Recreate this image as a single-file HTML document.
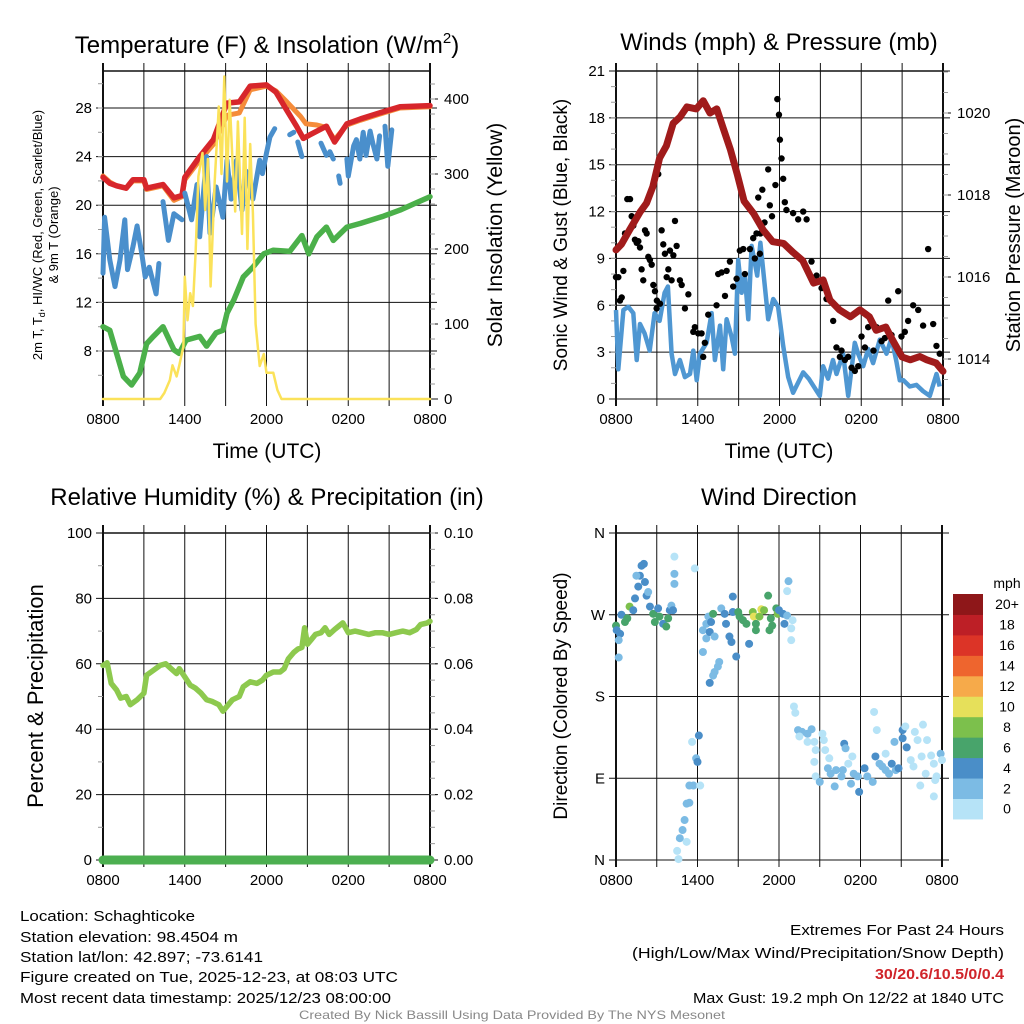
<!DOCTYPE html>
<html><head><meta charset="utf-8"><style>
html,body{margin:0;padding:0;background:#fff;}
svg{display:block;font-family:"Liberation Sans",Arial,sans-serif;}
</style></head><body>
<svg id="root" width="1024" height="1024" viewBox="0 0 1024 1024" xmlns="http://www.w3.org/2000/svg">
<rect x="0" y="0" width="1024" height="1024" fill="#fff"/>
<g id="p1"></g>
<g id="p2"></g>
<g id="p3"></g>
<g id="p4"></g>
<g id="colorbar"></g>

<text x="267" y="53" font-size="24" text-anchor="middle">Temperature (F) &amp; Insolation (W/m<tspan font-size="15" dy="-10">2</tspan><tspan dy="10">)</tspan></text>
<text x="779" y="50" font-size="24" text-anchor="middle">Winds (mph) &amp; Pressure (mb)</text>
<text x="267" y="505" font-size="24" text-anchor="middle">Relative Humidity (%) &amp; Precipitation (in)</text>
<text x="779" y="505" font-size="24" text-anchor="middle">Wind Direction</text>

<text x="267" y="458" font-size="21" text-anchor="middle">Time (UTC)</text>
<text x="779" y="458" font-size="21" text-anchor="middle">Time (UTC)</text>

<text transform="translate(42,235) rotate(-90)" font-size="13" text-anchor="middle">2m T, T<tspan font-size="9" dy="3">d</tspan><tspan dy="-3">, HI/WC (Red, Green, Scarlet/Blue)</tspan></text>
<text transform="translate(58,235) rotate(-90)" font-size="13" text-anchor="middle">&amp; 9m T (Orange)</text>
<text transform="translate(502,235) rotate(-90)" font-size="21" text-anchor="middle">Solar Insolation (Yellow)</text>
<text transform="translate(567,235) rotate(-90)" font-size="19" text-anchor="middle">Sonic Wind &amp; Gust (Blue, Black)</text>
<text transform="translate(1020,235) rotate(-90)" font-size="20" text-anchor="middle">Station Pressure (Maroon)</text>
<text transform="translate(43,696) rotate(-90)" font-size="22" text-anchor="middle">Percent &amp; Precipitation</text>
<text transform="translate(567,696) rotate(-90)" font-size="19" text-anchor="middle">Direction (Colored By Speed)</text>

<g font-size="15">
<text x="20" y="921" textLength="175" lengthAdjust="spacingAndGlyphs">Location: Schaghticoke</text>
<text x="20" y="942" textLength="218" lengthAdjust="spacingAndGlyphs">Station elevation: 98.4504 m</text>
<text x="20" y="962" textLength="243" lengthAdjust="spacingAndGlyphs">Station lat/lon: 42.897; -73.6141</text>
<text x="20" y="982" textLength="378" lengthAdjust="spacingAndGlyphs">Figure created on Tue, 2025-12-23, at 08:03 UTC</text>
<text x="20" y="1003" textLength="371" lengthAdjust="spacingAndGlyphs">Most recent data timestamp: 2025/12/23 08:00:00</text>
</g>
<g font-size="15" text-anchor="end">
<text x="1004" y="935" textLength="214" lengthAdjust="spacingAndGlyphs">Extremes For Past 24 Hours</text>
<text x="1004" y="958" textLength="372" lengthAdjust="spacingAndGlyphs">(High/Low/Max Wind/Precipitation/Snow Depth)</text>
<text x="1004" y="979" textLength="129" lengthAdjust="spacingAndGlyphs" fill="#d0242a" font-weight="bold">30/20.6/10.5/0/0.4</text>
<text x="1004" y="1003" textLength="311" lengthAdjust="spacingAndGlyphs">Max Gust: 19.2 mph On 12/22 at 1840 UTC</text>
</g>
<text x="512" y="1019" font-size="12" fill="#888" text-anchor="middle" textLength="426" lengthAdjust="spacingAndGlyphs">Created By Nick Bassill Using Data Provided By The NYS Mesonet</text>
</svg>
<script>
// ===== data =====
const timeTickLabels = ["0800","1400","2000","0200","0800"];
// Panel 1 (hours since 0800, value)
const redT = [0,0.5,1,1.7,2.2,3,3.2,4.4,5.2,5.8,6,7.1,8.1,9.1,10,10.8,12,12.7,13.5,14.2,14.7,15.2,16.4,17,17.9,18.9,20.6,21.8,24];
const redV = [22.3,21.8,21.6,21.4,22.1,22.1,21.4,21.7,20.6,20.8,22.3,24,25.4,28.4,28.5,29.8,29.9,29.3,27.8,26.5,25.5,25.8,26.5,25.2,26.7,27.1,27.7,28.1,28.2];
const orangeT = [0,0.5,1,1.7,2.2,3,3.2,4.4,5.2,5.8,6,7.1,8.1,9.1,10,10.8,12,12.7,13.5,14.5,14.9,15.7,16.4,17,17.9,18.9,20.6,21.8,24];
const orangeV = [22.4,21.9,21.6,21.4,22.0,22.0,21.3,21.6,20.4,20.7,22.1,23.7,25.0,27.4,27.6,29.5,29.8,29.4,28.5,27.3,26.7,26.6,26.4,25.4,26.6,27.0,27.6,28.0,28.1];
const greenT = [0,0.5,1,1.5,2.1,2.7,3.2,3.7,4.4,5.2,5.6,6.1,7.1,7.6,8.3,8.8,9.1,9.6,10.3,11,11.8,12.5,13.7,14.6,15.1,15.7,16.4,16.9,17.9,18.9,20.6,21.8,23,24];
const greenV = [10,9.7,7.8,5.9,5.2,6.2,8.6,9.2,10,8.1,7.8,8.9,9.2,8.4,9.5,9.7,11.1,12.2,14.1,14.9,16,16.3,16.2,17.5,16,17.4,18.2,17.1,18.2,18.5,19.1,19.6,20.2,20.7];
const blueT = [0,0.12,0.5,0.88,1.25,1.6,1.8,2.2,2.5,2.85,3.1,3.4,3.9,4.1,null,4.4,4.8,5.2,5.8,null,6.0,6.5,6.9,7.1,7.6,7.85,8.3,8.8,9.1,9.4,9.8,10.2,10.5,11,11.5,11.7,12.0,12.25,12.6,null,13.7,14.0,null,14.3,14.6,null,16.0,16.4,null,16.65,16.9,null,17.3,17.4,null,17.9,18.0,18.4,18.6,18.85,19.1,19.3,19.6,19.8,20.1,20.3,null,20.7,20.9,21.2];
const blueV = [14.4,19,15.5,13.3,15.5,18.8,14.7,16.6,18.3,16,14.1,14.9,12.7,15.2,null,20.3,17.1,19.3,18.8,null,21,18.8,21.7,17.4,24,17.7,21.5,19,23.7,20.5,23.7,19.6,22.8,20.5,23.7,22.6,24.3,25.6,26.3,null,25.8,26,null,25.2,24,null,25.1,24.1,null,24.4,23.8,null,22.4,21.8,null,23.8,22.4,24.9,25.4,23.8,26,24.1,26.1,25.1,23.8,25.7,null,26.5,23.2,26.2];
const solarT = [0,4.2,4.5,4.9,5.1,5.4,5.6,5.9,6.0,6.2,6.4,6.6,6.8,7.0,7.3,7.5,7.7,7.9,8.2,8.5,8.7,8.9,9.1,9.3,9.5,9.7,9.9,10.2,10.4,10.6,10.8,11.0,11.2,11.5,11.8,12.0,12.3,12.5,12.8,13.1,13.5,24];
const solarV = [0,0,8,25,45,30,45,70,163,105,141,124,195,297,328,252,320,150,290,390,300,430,290,399,320,250,370,220,375,200,340,248,100,44,60,35,35,35,12,0,0,0];
// Panel 2
const windT = [0,0.17,0.54,0.9,1.27,1.52,1.76,2.1,2.47,2.83,3.2,3.57,3.81,4.08,4.33,4.69,5.06,5.43,5.67,5.92,6.16,6.65,7.02,7.26,7.63,7.87,8.12,8.48,8.73,8.97,9.22,9.46,9.71,9.95,10.36,10.6,11.17,11.54,11.9,12.27,12.64,13.0,13.74,14.15,14.96,15.2,15.57,15.93,16.18,16.67,17.04,17.53,17.77,18.14,18.51,18.87,19.36,19.85,20.22,20.58,20.83,21.1,21.56,22.05,22.54,23.03,23.52,23.76];
const windV = [5.7,1.9,5.7,5.9,5.5,2.5,4.8,4.2,3.1,5.5,5.0,6.8,7.2,2.9,1.6,2.5,1.4,1.6,3.1,1.2,2.9,3.6,5.5,2.5,4.7,1.9,5.1,4.0,2.9,8.9,6.8,7.9,5.1,9.8,7.9,10.0,5.1,6.4,5.9,3.4,1.4,0.4,1.7,1.3,0.2,2.1,1.3,2.5,1.6,2.9,0.2,3.6,2.9,2.1,3.2,2.3,3.8,2.9,3.9,2.4,1.2,1.2,0.8,0.9,0.5,0.2,1.6,0.8];
const gustT = [0,0.17,0.29,0.42,0.54,0.66,0.83,1.03,1.15,1.27,1.39,1.52,1.64,1.76,1.88,2.0,2.13,2.25,2.37,2.49,2.62,2.74,2.86,2.98,3.0,3.1,3.23,3.35,3.47,3.59,3.72,3.84,3.96,4.08,4.21,4.33,4.45,4.69,4.82,5.06,5.31,5.67,5.79,6.03,6.28,6.4,6.52,6.77,7.38,7.5,7.75,8.0,8.12,8.36,8.6,8.85,9.09,9.34,9.46,9.83,10.07,10.19,10.31,10.44,10.56,10.6,10.74,10.9,11.17,11.29,11.45,11.7,11.84,11.96,12.03,12.15,12.27,12.39,12.51,13.0,13.37,13.74,13.99,14.35,14.72,15.09,15.45,15.94,16.18,16.43,16.55,16.8,17.04,17.29,17.53,17.78,18.02,18.27,18.51,18.9,19.12,19.49,19.73,19.98,20.22,20.71,20.95,21.2,21.44,21.81,22.18,22.54,22.91,23.28,23.52,23.76];
const gustV = [7.8,7.8,6.3,6.5,8.2,10.6,12.8,12.8,11.7,11.1,10.2,10.0,10.1,9.7,8.3,7.6,10.8,10.6,9.1,8.9,8.6,7.3,6.9,5.8,6.3,14.4,6.1,10.8,9.9,9.3,7.8,8.3,9.5,7.6,9.2,11.4,9.8,7.6,7.3,5.8,6.7,4.3,4.6,4.2,4.2,2.7,3.6,5.4,6.0,8.0,8.1,6.6,8.2,8.8,7.2,7.7,9.5,9.6,8.0,9.6,10.3,9.0,10.6,12.9,9.3,10.6,13.4,11.3,14.7,12.4,11.7,13.7,19.2,18.2,16.6,15.4,14.1,12.6,12.1,11.9,11.5,12.0,11.5,8.8,7.9,7.1,6.4,5.0,3.3,2.7,3.1,2.5,2.7,2.0,1.8,2.1,4.0,3.3,4.6,3.1,4.6,3.7,3.9,6.3,4.1,6.9,4.0,4.3,5.0,6.0,5.7,4.7,9.6,4.8,3.4,2.9,3.4,2.3,1.8,2.4,1.1];
const pressT = [0,0.4,1.0,1.8,2.24,2.7,3.2,3.7,4.2,4.7,5.2,5.9,6.4,6.9,7.4,7.9,8.4,8.9,9.4,10.1,10.8,11.5,12.3,13.0,13.7,14.5,15.2,15.7,16.4,17.2,17.9,18.6,19.1,19.8,20.3,21.0,21.6,22.3,22.8,23.5,24];
const pressV = [1016.66,1016.8,1017.15,1017.6,1017.8,1018.2,1018.9,1019.2,1019.75,1019.9,1020.15,1020.1,1020.3,1020.0,1020.1,1019.6,1019.1,1018.5,1017.85,1017.55,1017.15,1016.86,1016.82,1016.6,1016.4,1015.85,1015.93,1015.44,1015.2,1015.03,1015.2,1015.03,1014.7,1014.78,1014.46,1014.05,1013.98,1014.06,1013.98,1013.9,1013.7];
// Panel 3
const rhT = [0,0.3,0.6,1,1.3,1.7,2,2.5,3,3.2,3.7,4.2,4.6,5,5.4,5.6,6,6.4,6.8,7.2,7.6,8,8.5,8.8,9.2,9.5,10,10.3,10.8,11.3,11.7,12,12.5,13,13.3,13.6,14,14.3,14.6,14.8,15,15.3,15.6,16,16.3,16.6,17,17.3,17.6,18,18.5,19,19.5,20,20.5,21,21.5,22,22.5,23,23.3,23.8,24];
const rhV = [59.5,60.3,54,52,49.5,50,47.5,49,51,56.5,58,59.5,60,58.5,57,58.5,56,53.5,52.5,51,49,48.5,47.5,45.5,47.5,49,50,53,54.5,54,55,56.5,57.5,57.5,58.5,61.5,63.5,64.5,65,71,66,67.5,69,69.5,71,69,70.5,71.5,72.5,69.5,70,69.5,69,69.5,69.5,69,69.5,70,69.5,70.5,72,72.5,73];
const precipT = [0,24];
const precipV = [0,0];
// Panel 4 wind direction
const dirT = [0,0.05,0.3,0.2,0.2,0.4,0.66,0.83,1.0,1.27,1.4,1.64,1.76,1.88,2.05,1.5,2.13,2.25,2.37,2.5,2.74,2.86,3.1,3.2,3.47,3.7,3.84,3.96,4.08,4.2,4.3,4.3,4.3,5.8,5.6,6.1,5.9,6.0,5.7,6.2,5.4,5.2,5.4,5.05,4.9,4.7,5.2,4.5,4.6,6.4,6.65,6.8,7.0,7.15,6.4,6.65,6.9,7.26,7.6,7.5,7.26,7.15,6.9,7.75,8.0,8.1,8.35,8.5,8.6,8.85,8.6,9.0,9.1,9.35,9.6,9.8,10.07,10.15,10.3,10.3,10.56,10.7,10.9,11.2,11.3,11.4,11.5,11.8,11.9,12.0,12.3,12.4,12.6,13.0,12.9,12.6,12.7,12.9,13.1,13.2,13.4,13.7,14.1,14.4,13.5,14.1,14.6,14.7,14.6,14.7,15.0,15.2,15.3,15.4,15.7,15.6,15.8,16.1,16.2,16.6,16.7,16.8,16.9,17.1,17.3,17.4,17.5,17.8,17.9,18.3,18.5,18.9,19.0,19.2,19.1,19.4,19.6,19.85,20.1,19.85,20.3,20.6,20.8,21.1,21.1,20.5,21.3,21.4,21.7,21.9,22.0,22.2,22.5,22.6,22.9,22.4,22.8,23.2,23.4,23.4,23.6,23.5,23.9,24];
const dirV = [258,253,249,242,223,270,262,266,279,275,288,301,313,324,326,313,306,291,295,279,271,262,277,268,260,257,266,275,280,275,334,315,304,321,130,137,112,108,82,82,82,62,63,44,33,24,20,10,1,253,260,268,262,271,229,244,251,246,218,213,207,203,195,277,271,260,246,240,290,224,273,273,268,264,260,238,273,268,260,253,268,276,275,291,253,266,258,277,271,275,271,260,269,264,255,296,307,242,169,162,143,141,139,144,136,130,130,121,108,92,86,139,132,121,112,101,95,81,99,92,99,128,123,106,84,114,95,92,75,101,92,86,163,143,114,106,103,99,95,117,106,99,101,143,134,130,147,124,110,103,141,132,114,149,132,82,95,115,106,70,92,88,117,110];
const dirSpd = [7,5,5,3,3,5,7,7,9,5,5,5,5,5,5,3,5,5,3,5,7,7,5,7,5,7,7,5,3,5,1,3,3,1,1,5,3,5,3,1,3,3,3,3,3,3,1,1,1,3,3,3,5,7,3,3,5,3,3,3,3,3,5,3,5,5,5,5,5,5,5,7,7,7,7,5,9,11,7,7,9,11,9,7,7,7,7,7,9,5,5,5,3,1,1,1,3,1,1,1,3,3,3,3,1,1,1,1,1,1,3,1,1,1,1,3,3,3,3,3,3,5,3,1,3,1,3,3,5,5,3,3,1,1,5,3,3,3,3,1,5,3,5,5,5,3,1,5,1,1,1,1,1,1,1,1,1,1,1,1,1,1,3,1,1];
const cbLabels = ["0","2","4","6","8","10","12","14","16","18","20+"];
const cbColors = ["#b6e3f7","#7cbbe4","#4a8ec8","#48a46b","#7cc04c","#e6e05a","#f6aa4a","#ee652e","#dc3427","#bd1f26","#8e1719"];

// ===== helpers =====
const NS="http://www.w3.org/2000/svg";
function mk(tag,attrs,parent){const e=document.createElementNS(NS,tag);for(const k in attrs)e.setAttribute(k,attrs[k]);parent.appendChild(e);return e;}
function lin(d0,d1,r0,r1){return v=>r0+(v-d0)*(r1-r0)/(d1-d0);}
function pathFrom(ts,vs,sx,sy){let d="",pen=false;for(let i=0;i<ts.length;i++){if(ts[i]===null||vs[i]===null){pen=false;continue;}d+=(pen?"L":"M")+sx(ts[i]).toFixed(1)+","+sy(vs[i]).toFixed(1);pen=true;}return d;}

function frame(g,X0,X1,Y0,Y1,hvals,sy,labels,lx,rvals,syr,rlabels,minorL,minorR){
  for(let i=0;i<=8;i++){const x=X0+(X1-X0)*i/8;
    const gl=mk("line",{x1:x,x2:x,y1:Y0-8,y2:Y1+7,stroke:"#111","stroke-width":i==0||i==8?2:1},g);
    
    }
  hvals.forEach((v,i)=>{const y=sy(v);
    const hl=mk("line",{x1:X0-7,x2:X1+7,y1:y,y2:y,stroke:"#111","stroke-width":1},g);
    
    
    if(labels){const t=mk("text",{x:X0-11,y:y+5,"font-size":15,"text-anchor":"end"},g);t.textContent=labels[i];
      
      }
  });
  mk("line",{x1:X0,x2:X1,y1:Y0,y2:Y0,stroke:"#111","stroke-width":1.5},g);
  (minorL||[]).forEach(v=>{const y=sy(v);mk("line",{x1:X0-5,x2:X0,y1:y,y2:y,stroke:"#999","stroke-width":1},g);});
  if(rvals){rvals.forEach((v,i)=>{const y=syr(v);mk("line",{x1:X1,x2:X1+8,y1:y,y2:y,stroke:"#111","stroke-width":1},g);
    const t=mk("text",{x:X1+14,y:y+5,"font-size":15},g);t.textContent=rlabels[i];
    
    });
    (minorR||[]).forEach(v=>{const y=syr(v);mk("line",{x1:X1,x2:X1+5,y1:y,y2:y,stroke:"#999","stroke-width":1},g);});}
  timeTickLabels.forEach((l,i)=>{const t=mk("text",{x:X0+(X1-X0)*i/4,y:Y1+25,"font-size":15,"text-anchor":"middle"},g);t.textContent=l;
    
    });
}
function range(a,b,s){const r=[];for(let v=a;v<=b+1e-9;v+=s)r.push(+v.toFixed(4));return r;}

// ===== Panel 1 =====
(function(){const g=document.getElementById("p1");
 const X0=103,X1=430,Y0=71,Y1=399;
 const sx=lin(0,24,X0,X1), sy=lin(8,28,351,108), ss=lin(0,400,399,99);
 frame(g,X0,X1,Y0,Y1,[8,12,16,20,24,28],sy,["8","12","16","20","24","28"],0,[0,100,200,300,400],ss,["0","100","200","300","400"],range(6,30,2),range(20,420,20));
 const series=[[orangeT,orangeV,"#f58c3a",5,sy,"orange-9m-temp-line"],[redT,redV,"#d7262b",5.5,sy,"red-2m-temp-line"],[blueT,blueV,"#4a8fcc",5,sy,"blue-heat-index-line"],[greenT,greenV,"#4bb04a",5.5,sy,"green-dewpoint-line"],[solarT,solarV,"#fbe25a",2.5,ss,"yellow-solar-line"]];
 series.forEach(s=>{const p=mk("path",{d:pathFrom(s[0],s[1],sx,s[4]),fill:"none",stroke:s[2],"stroke-width":s[3],"stroke-linejoin":"round","stroke-linecap":"round"},g);
   
   });
})();

// ===== Panel 2 =====
(function(){const g=document.getElementById("p2");
 const X0=616,X1=943,Y0=71,Y1=399;
 const sx=lin(0,24,X0,X1), sy=lin(0,21,399,71), sp=lin(1014,1020,359,113);
 frame(g,X0,X1,Y0,Y1,[0,3,6,9,12,15,18,21],sy,["0","3","6","9","12","15","18","21"],0,[1014,1016,1018,1020],sp,["1014","1016","1018","1020"],range(1,20,1),range(1013.5,1021,0.5));
 const w=mk("path",{d:pathFrom(windT,windV,sx,sy),fill:"none",stroke:"#4f97d2","stroke-width":4.5,"stroke-linejoin":"round"},g);
 
 
 gustT.forEach((t,i)=>{const c=mk("circle",{cx:sx(t),cy:sy(gustV[i]),r:3.2,fill:"#000"},g);
   
   });
 const p=mk("path",{d:pathFrom(pressT,pressV,sx,sp),fill:"none",stroke:"#a01b1b","stroke-width":7,"stroke-linejoin":"round","stroke-linecap":"round"},g);
 
 
})();

// ===== Panel 3 =====
(function(){const g=document.getElementById("p3");
 const X0=103,X1=430,Y0=533,Y1=860;
 const sx=lin(0,24,X0,X1), sy=lin(0,100,860,533), sr=lin(0,0.1,860,533);
 frame(g,X0,X1,Y0,Y1,[0,20,40,60,80,100],sy,["0","20","40","60","80","100"],0,[0,0.02,0.04,0.06,0.08,0.1],sr,["0.00","0.02","0.04","0.06","0.08","0.10"],range(10,90,20),range(0.005,0.1,0.005));
 const r=mk("path",{d:pathFrom(rhT,rhV,sx,sy),fill:"none",stroke:"#8dc94e","stroke-width":5.5,"stroke-linejoin":"round","stroke-linecap":"round"},g);
 
 
 const pr=mk("path",{d:pathFrom(precipT,precipV,sx,sr),fill:"none",stroke:"#4caf50","stroke-width":9,"stroke-linecap":"round"},g);
 
 
})();

// ===== Panel 4 =====
(function(){const g=document.getElementById("p4");
 const X0=616,X1=942,Y0=533,Y1=860;
 const sx=lin(0,24,X0,X1), sy=lin(0,360,860,533);
 frame(g,X0,X1,Y0,Y1,[0,90,180,270,360],sy,["N","E","S","W","N"],0,null);
 dirT.forEach((t,i)=>{const idx=Math.min(10,Math.floor(dirSpd[i]/2));
   const c=mk("circle",{cx:sx(t),cy:sy(dirV[i]),r:4,fill:cbColors[idx]},g);
   
   });
 const cb=document.getElementById("colorbar");
 const h=20.45, top=594;
 const ut=mk("text",{x:1007,y:588,"font-size":14,"text-anchor":"middle"},cb);ut.textContent="mph";
 
 
 cbColors.forEach((c,i)=>{const y=top+(10-i)*h;
   const r=mk("rect",{x:953,y:y,width:30,height:h+0.5,fill:c},cb);
   
   
   const t=mk("text",{x:1007,y:y+h/2+5,"font-size":14,"text-anchor":"middle"},cb);t.textContent=cbLabels[i];
   
   });
})();
</script>
</body></html>
